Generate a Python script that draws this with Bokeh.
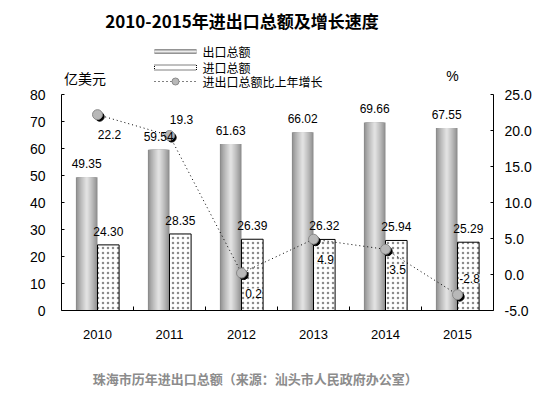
from bokeh.plotting import figure
from bokeh.layouts import column
from bokeh.models import (Range1d, LinearAxis, FixedTicker, NumeralTickFormatter,
                          ColumnDataSource, Label)
from bokeh.transform import dodge
from bokeh.core.properties import value
from bokeh.embed import file_html
from bokeh.resources import INLINE

# ---------------- data ----------------
years = ["2010", "2011", "2012", "2013", "2014", "2015"]
exports = [49.35, 59.54, 61.63, 66.02, 69.66, 67.55]   # 出口总额 (亿美元)
imports = [24.30, 28.35, 26.39, 26.32, 25.94, 25.29]   # 进口总额 (亿美元)
growth = [22.2, 19.3, 0.2, 4.9, 3.5, -2.8]             # 进出口总额比上年增长 (%)
left_ticks = [0, 10, 20, 30, 40, 50, 60, 70, 80]
right_ticks = [-5, 0, 5, 10, 15, 20, 25]
legend_labels = ["出口总额", "进口总额", "进出口总额比上年增长"]

# label placement style for growth values
growth_label_side = ["below", "above", "below", "below", "below", "above"]

# ---------------- layout (pixels) ----------------
W = 556
ML, MR, MB = 61, 63, 40
PLOT_TOP, PLOT_BOT = 94, 310          # where the value axes run
MAIN_H = PLOT_BOT + MB
BOT_H = 393 - MAIN_H
NX = len(years)
FW = W - ML - MR
L0, L1 = left_ticks[0], left_ticks[-1]
R0, R1 = right_ticks[0], right_ticks[-1]
ppu = (PLOT_BOT - PLOT_TOP) / (L1 - L0)   # pixels per left unit

def px(xp):   # page x -> data x
    return (xp - ML) / FW * NX

def py(yp):   # page y -> data y (left axis)
    return L0 + (PLOT_BOT - yp) / ppu

LAT = "Liberation Sans"
CJK = "Noto Sans CJK SC"

xc = [i + 0.5 for i in range(NX)]
src = ColumnDataSource(dict(
    x=xc, year=years, exp=exports, imp=imports, gr=growth,
    exp_lbl=[f"{v:.2f}" for v in exports],
    imp_lbl=[f"{v:.2f}" for v in imports],
    gr_lbl=[f"{v:.1f}" for v in growth],
    gr_yoff=[20 if s == "below" else -16 for s in growth_label_side],
))

span = PLOT_BOT / (PLOT_BOT - PLOT_TOP)
p = figure(width=W, height=MAIN_H, output_backend="svg", toolbar_location=None,
           x_range=Range1d(0, NX), y_range=Range1d(L0, L0 + (L1 - L0) * span),
           min_border_left=ML, min_border_right=MR,
           min_border_top=0, min_border_bottom=MB)
p.title.visible = False
p.extra_y_ranges = {"pct": Range1d(R0, R0 + (R1 - R0) * span)}
p.outline_line_color = None
p.grid.visible = False
p.background_fill_color = "white"
p.border_fill_color = "white"

# x axis
xa = p.xaxis[0]
xa.ticker = FixedTicker(ticks=xc, minor_ticks=[float(i) for i in range(1, NX)])
xa.major_label_overrides = {x: y for x, y in zip(xc, years)}
xa.major_tick_in = 0
xa.major_tick_out = 0
xa.minor_tick_in = 4
xa.minor_tick_out = 0
xa.minor_tick_line_color = "black"
xa.axis_line_color = "black"
xa.major_label_text_font = LAT
xa.major_label_text_font_size = "13px"
xa.major_label_text_color = "black"
xa.major_label_standoff = 19

# left y axis
ya = p.yaxis[0]
ya.ticker = FixedTicker(ticks=left_ticks)
ya.bounds = (L0, L1)
ya.major_tick_in = 3
ya.major_tick_out = 0
ya.axis_line_color = "black"
ya.major_tick_line_color = "black"
ya.major_label_text_font = LAT
ya.major_label_text_font_size = "14px"
ya.major_label_text_color = "black"
ya.major_label_standoff = 16

# right y axis
ra = LinearAxis(y_range_name="pct", ticker=FixedTicker(ticks=right_ticks),
                formatter=NumeralTickFormatter(format="0.0"), bounds=(R0, R1))
ra.major_tick_in = 3
ra.major_tick_out = 0
ra.minor_tick_in = 0
ra.minor_tick_out = 0
ra.axis_line_color = "black"
ra.major_tick_line_color = "black"
ra.major_label_text_font = LAT
ra.major_label_text_font_size = "14px"
ra.major_label_text_color = "black"
ra.major_label_standoff = 11
p.add_layout(ra, "right")

# ---------------- export bars (cylinder shading) ----------------
BW = 0.30
dark = (0x8c, 0x8c, 0x8c)
light = (0xe8, 0xe8, 0xe8)
n_layers = 10
for i in range(n_layers):
    frac = 1 - i / n_layers
    t = (1 - frac) ** 0.8
    c = tuple(int(round(d + (l - d) * t)) for d, l in zip(dark, light))
    col = "#%02x%02x%02x" % c
    p.vbar(x=dodge("x", -BW / 2), top="exp", bottom=0, width=BW * frac,
           fill_color=col, line_color=None, source=src)

# ---------------- import bars (dotted) ----------------
p.vbar(x=dodge("x", BW / 2), top="imp", bottom=0, width=BW,
       fill_color="white", line_color="black", line_width=1,
       hatch_pattern="dot", hatch_scale=5, hatch_color="black", hatch_alpha=0.45,
       source=src)

# ---------------- growth line ----------------
p.line(x="x", y="gr", y_range_name="pct", line_color="black",
       line_width=1, line_dash="1 3", source=src)
p.scatter(x=dodge("x", 0.03), y=dodge("gr", -0.28), y_range_name="pct",
          size=9, fill_color="black", line_color="black", source=src)
p.scatter(x="x", y="gr", y_range_name="pct", size=10,
          fill_color="#b8b8b8", line_color="#8a8a8a", source=src)

# ---------------- value labels ----------------
p.text(x=dodge("x", -BW / 2), y="exp", text="exp_lbl", source=src,
       text_align="center", text_baseline="bottom", y_offset=-9,
       text_font=value(LAT), text_font_size="12px", text_color="black")
p.text(x=dodge("x", BW / 2), y="imp", text="imp_lbl", source=src,
       text_align="center", text_baseline="bottom", y_offset=-9,
       text_font=value(LAT), text_font_size="12px", text_color="black")
p.text(x="x", y="gr", y_range_name="pct", text="gr_lbl", source=src,
       text_align="center", text_baseline="middle", x_offset=12, y_offset="gr_yoff",
       text_font=value(LAT), text_font_size="12px", text_color="black",
       background_fill_color="white")

# ---------------- header: title, units, legend ----------------
p.add_layout(Label(x=px(241.5), y=py(20), text="2010-2015年进出口总额及增长速度",
                   text_align="center", text_baseline="middle",
                   text_font=CJK, text_font_size="17px", text_font_style="bold",
                   text_color="black"))
p.add_layout(Label(x=px(84.5), y=py(77), text="亿美元", text_align="center",
                   text_baseline="middle", text_font=CJK, text_font_size="14px",
                   text_color="black"))
p.add_layout(Label(x=px(452), y=py(75), text="%", text_align="center",
                   text_baseline="middle", text_font=LAT, text_font_size="14px",
                   text_color="black"))

SW_X0, SW_X1 = 154, 196
SW_C = (SW_X0 + SW_X1) / 2
ROW_Y = [51, 67, 81]
p.rect(x=[px(SW_C)] * 4, y=[py(ROW_Y[0])] * 4, width=SW_X1 - SW_X0,
       height=[5, 3.6, 2.2, 1], width_units="screen", height_units="screen",
       fill_color=["#8c8c8c", "#acacac", "#cccccc", "#ececec"], line_color=None)
p.rect(x=[px(SW_C)], y=[py(ROW_Y[1])], width=SW_X1 - SW_X0, height=5,
       width_units="screen", height_units="screen", fill_color="white",
       line_color="black", line_width=1, line_dash="1 1")
p.line(x=[px(SW_X0), px(SW_X1)], y=[py(ROW_Y[2])] * 2,
       line_color="black", line_width=1, line_dash="1 3")
p.scatter(x=[px(SW_C)], y=[py(ROW_Y[2])], size=7,
          fill_color="#b8b8b8", line_color="#8a8a8a")
for lbl, ry in zip(legend_labels, ROW_Y):
    p.add_layout(Label(x=px(SW_X1 + 6), y=py(ry), text=lbl, text_align="left",
                       text_baseline="middle", text_font=CJK,
                       text_font_size="12px", text_color="black"))

# ---------------- bottom: caption ----------------
bot = figure(width=W, height=BOT_H, output_backend="svg", toolbar_location=None,
             x_range=Range1d(0, W), y_range=Range1d(BOT_H, 0),
             x_axis_type=None, y_axis_type=None,
             min_border_left=0, min_border_right=0,
             min_border_top=0, min_border_bottom=0)
bot.outline_line_color = None
bot.title.visible = False
bot.border_fill_color = "white"
bot.add_layout(Label(x=249.5, y=378 - MAIN_H,
                     text="珠海市历年进出口总额（来源：汕头市人民政府办公室）",
                     text_align="center", text_baseline="middle",
                     text_font=CJK, text_font_size="13px", text_font_style="bold",
                     text_color="#8c8c8c"))

layout = column(p, bot, spacing=0)
open("out.html", "w").write(file_html(layout, INLINE))
